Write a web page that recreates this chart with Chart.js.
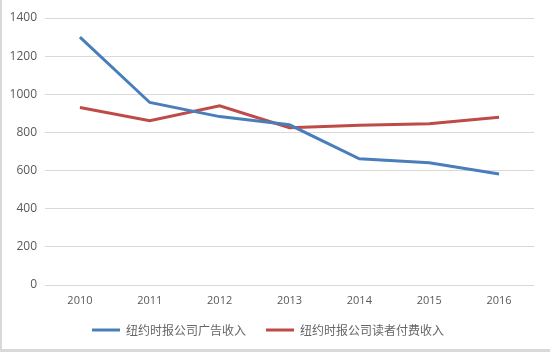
<!DOCTYPE html>
<html><head><meta charset="utf-8">
<script src="https://cdn.jsdelivr.net/npm/chart.js@4"></script>
<style>
html,body{margin:0;padding:0;background:#fff;}
#wrap{width:550px;height:352px;position:relative;box-sizing:border-box;border-left:2px solid #d9d9d9;border-bottom:3px solid #d9d9d9;}
</style></head><body>
<div id="wrap"><canvas id="c"></canvas></div>
<script>
const categories = ['2010','2011','2012','2013','2014','2015','2016'];
const adRevenue = [1300, 957, 883, 840, 662, 641, 582];
const subRevenue = [931, 862, 940, 825, 838, 846, 880];
const seriesNames = ['纽约时报公司广告收入','纽约时报公司读者付费收入'];
const yTicks = [0,200,400,600,800,1000,1200,1400];

const font = "'Noto Sans CJK SC','DejaVu Sans',sans-serif";
const numFont = "'Open Sans','DejaVu Sans',sans-serif";
new Chart(document.getElementById('c'), {
  type: 'line',
  data: {
    labels: categories,
    datasets: [
      {label: seriesNames[0], data: adRevenue, borderColor: '#4a7ebb', backgroundColor: '#4a7ebb', borderWidth: 3, pointRadius: 0, tension: 0},
      {label: seriesNames[1], data: subRevenue, borderColor: '#be4b48', backgroundColor: '#be4b48', borderWidth: 3, pointRadius: 0, tension: 0}
    ]
  },
  options: {
    responsive: true, maintainAspectRatio: false, animation: false,
    layout: {padding: {left: 0, right: 16, top: 18, bottom: 3}},
    plugins: {
      legend: {position: 'bottom', labels: {usePointStyle: true, pointStyle: 'line', pointStyleWidth: 28, color: '#666666', font: {family: font, size: 12}, padding: 20}},
      tooltip: {enabled: false}
    },
    scales: {
      x: {
        offset: true,
        grid: {display: false}, border: {display: false},
        ticks: {color: '#595959', font: {family: numFont, size: 11}, padding: 1},
        afterFit: s => { s.height = 19; }
      },
      y: {
        min: 0, max: 1400,
        afterBuildTicks: s => { s.ticks = yTicks.map(v => ({value: v})); },
        grid: {color: '#d9d9d9', drawTicks: false, lineWidth: 1}, border: {display: false},
        ticks: {color: '#595959', font: {family: numFont, size: 12}, padding: 8, callback: v => String(v)},
        afterFit: s => { s.width = 43; }
      }
    }
  }
});
</script></body></html>
